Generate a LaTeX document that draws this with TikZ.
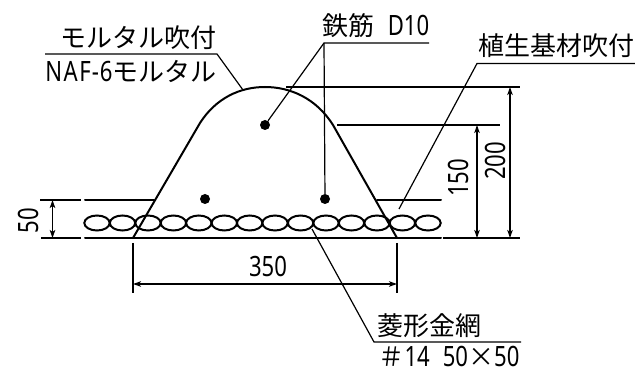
\documentclass[tikz,border=0pt]{standalone}
\usepackage{fontspec}
\setmainfont{Noto Sans CJK JP}
\newfontfamily\hwfont[FakeStretch=0.79]{Noto Sans}
\newcommand{\hw}[1]{{\hwfont\fontsize{28}{28}\selectfont #1}}
\usetikzlibrary{arrows.meta, positioning}
\tikzset{
  concrete/.style={line width=2pt, line cap=round},
  thin line/.style={line width=1.2pt},
  dimline/.style={line width=1.2pt, {Stealth[length=8pt,width=5.5pt,inset=2pt]}-{Stealth[length=8pt,width=5.5pt,inset=2pt]}},
  label/.style={inner sep=0pt, font=\fontsize{26}{26}\selectfont},
  bar/.style={circle, fill=black, inner sep=0pt, minimum size=10pt},
  wire/.style={line width=2pt}
}
\begin{document}
\begin{tikzpicture}[x=1pt, y=-1pt]
  \useasboundingbox (0,0) rectangle (635,371);

  % crimped wire mesh
  \foreach \cx in {97,122.5,148,173.4,198.8,224.3,249.7,275,300.6,326,351.5,377,402.4,428}
    \draw[wire] (\cx,223) ellipse (12.7pt and 7.5pt);

  % base and surface lines
  \draw[concrete] (85,238) -- (441,238);
  \draw[concrete] (85,200) -- (154,200);
  \draw[concrete] (377,200) -- (441,200);

  % mortar crown
  \draw[concrete] (133,238) -- (200,123)
    .. controls (216,98) and (240,87) .. (265,87)
    .. controls (290,87) and (316,98) .. (333,125) -- (397,238);

  % bars
  \node[bar] (bartop) at (265,125) {};
  \node[bar] (barleft) at (205,199) {};
  \node[bar] (barright) at (325,199) {};

  % leaders
  \coordinate (rebarend) at (429,43);
  \coordinate (rebarknee) at (324,43);
  \draw[thin line] (rebarend) -- (rebarknee) -- (bartop);
  \draw[thin line] (rebarknee) -- (barright);
  \node[label, anchor=center] (rebartext) at (376,25.5) {鉄筋\hspace{13pt}\hw{D10}};

  \coordinate (mortarstart) at (45,54);
  \coordinate (mortarknee) at (217,54);
  \coordinate (mortartip) at (243,90);
  \draw[thin line] (mortarstart) -- (mortarknee) -- (mortartip);
  \node[label] (mortartext) at (138,37.5) {モルタル吹付};
  \node[label] (naftext) at (131,71.5) {\hw{N\kern1.5pt A\kern1.5pt F\kern1pt-\kern1pt 6}モルタル};

  \coordinate (seedend) at (635,63.5);
  \coordinate (seedknee) at (477,63.5);
  \coordinate (seedtip) at (399,209);
  \draw[thin line] (seedend) -- (seedknee) -- (seedtip);
  \node[label] (seedtext) at (556,46) {植生基材吹付};

  \coordinate (meshend) at (521,342);
  \coordinate (meshknee) at (374,342);
  \coordinate (meshtip) at (312,229);
  \draw[thin line] (meshend) -- (meshknee) -- (meshtip);
  \node[label] (meshtext) at (429,326) {菱形金網};
  \node[label] (spectext) at (449,356.5) {＃\hw{14}\hspace{13pt}\hw{50}×\hw{50}};

  % dimensions
  \draw[thin line] (286,87) -- (520,87);
  \draw[thin line] (337,125) -- (500,125);
  \draw[thin line] (443,238) -- (520,238);
  \draw[dimline] (510,87) -- (510,238);
  \draw[dimline] (477,125) -- (477,238);
  \node[rotate=90, inner sep=0pt] (dimtwo) at (495,161) {\hw{200}};
  \node[rotate=90, inner sep=0pt] (dimone) at (458,178) {\hw{150}};

  \draw[thin line] (40,200) -- (81,200);
  \draw[thin line] (41,238) -- (81,238);
  \draw[dimline] (52.5,200) -- (52.5,238);
  \node[rotate=90, inner sep=0pt] (dimfifty) at (28,221) {\hw{50}};

  \draw[thin line] (133,243) -- (133,293);
  \draw[thin line] (397,243) -- (397,293);
  \draw[dimline] (133,284) -- (397,284);
  \node[inner sep=0pt] (dimwidth) at (268,266) {\hw{350}};
\end{tikzpicture}
\end{document}
